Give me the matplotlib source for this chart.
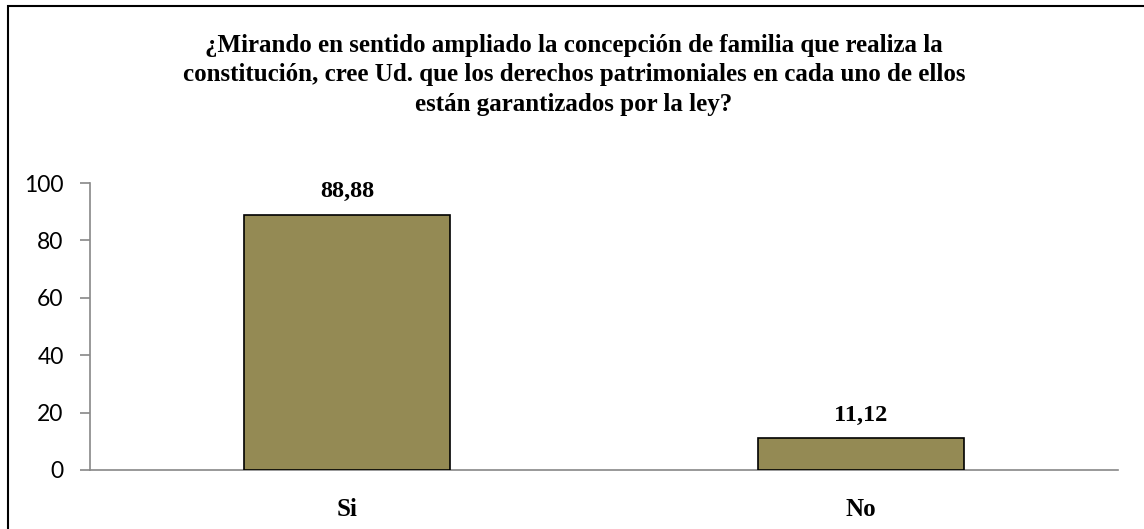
import matplotlib
matplotlib.use("Agg")
import matplotlib.pyplot as plt
from matplotlib.patches import Rectangle

categories = ["Si", "No"]
values = [88.88, 11.12]
value_labels = ["88,88", "11,12"]
yticks = [0, 20, 40, 60, 80, 100]
title = ("¿Mirando en sentido ampliado la concepción de familia que realiza la\n"
         "constitución, cree Ud. que los derechos patrimoniales en cada uno de ellos\n"
         "están garantizados por la ley?")

W, H = 1144, 529
fig = plt.figure(figsize=(W / 100, H / 100), dpi=100)

# outer chart border (only left and top visible)
fig.patches.append(Rectangle((8 / W, -0.1), 1.2, (H - 6) / H + 0.1, transform=fig.transFigure,
                             fill=False, edgecolor="black", linewidth=1.5))

ax = fig.add_axes([90 / W, (H - 470) / H, (1118 - 90) / W, (470 - 183) / H])
x = list(range(len(categories)))
ax.bar(x, values, width=0.4, color="#948A54", edgecolor="black", linewidth=1.2, zorder=3)
ax.set_xlim(-0.5, 1.5)
ax.set_ylim(0, 100)
ax.set_yticks(yticks)
ax.set_yticklabels([str(t) for t in yticks], fontfamily="Lato", fontsize=16.5)
ax.set_xticks(x)
ax.set_xticklabels(categories, fontfamily="Liberation Serif", fontweight="bold", fontsize=18)
ax.tick_params(axis="y", length=7, width=1.2, color="#888888", pad=12)
ax.tick_params(axis="x", length=0, pad=20)
for s in ["top", "right"]:
    ax.spines[s].set_visible(False)
ax.spines["left"].set_color("#888888")
ax.spines["bottom"].set_color("#888888")
ax.spines["left"].set_linewidth(1.2)
ax.spines["bottom"].set_linewidth(1.2)

for xi, v, lab in zip(x, values, value_labels):
    ax.annotate(lab, (xi, v), xytext=(0, 9), textcoords="offset points", ha="center", va="bottom",
                fontfamily="Liberation Serif", fontweight="bold", fontsize=17.5)

fig.text(574 / W, 1 - 34 / H, title, ha="center", va="top", fontfamily="Liberation Serif",
         fontweight="bold", fontsize=18, linespacing=1.36)

fig.savefig("out.png", dpi=100)
